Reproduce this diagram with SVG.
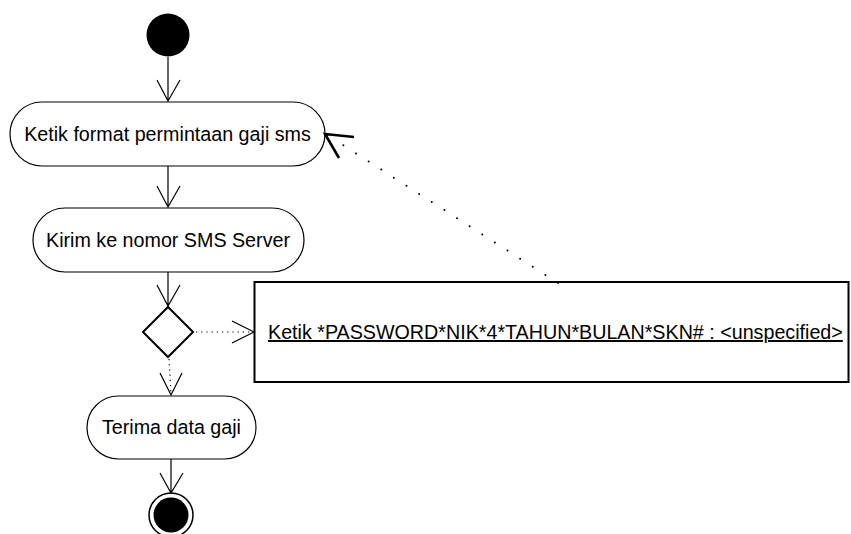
<svg xmlns="http://www.w3.org/2000/svg" width="851" height="534" viewBox="0 0 851 534">
<style>
text{font-family:"Liberation Sans",Arial,sans-serif;font-size:19.7px;fill:#000}
.act{fill:#fff;stroke:#000;stroke-width:1.2}
.thick{fill:#fff;stroke:#000;stroke-width:2}
.ln{fill:none;stroke:#000;stroke-width:1.2}
.dot{fill:none;stroke:#000;stroke-width:1.2;stroke-dasharray:1.2 4}
</style>
<rect width="851" height="534" fill="#fff"/>
<g id="start"><circle cx="168" cy="35" r="21.5" fill="#000"/></g>
<g id="a1"><rect class="act" x="10" y="102" width="315" height="64" rx="32"/><text x="167.5" y="141" text-anchor="middle">Ketik format permintaan gaji sms</text></g>
<g id="a2"><rect class="act" x="33" y="208" width="271" height="64" rx="32"/><text x="168" y="247" text-anchor="middle">Kirim ke nomor SMS Server</text></g>
<g id="decision"><polygon class="thick" points="168,307 193,332 168,357 143,332"/></g>
<g id="note"><rect class="thick" x="254.5" y="282" width="594" height="100"/><text x="268" y="339" text-decoration="underline">Ketik *PASSWORD*NIK*4*TAHUN*BULAN*SKN# : &lt;unspecified&gt;</text></g>
<g id="a3"><rect class="act" x="87" y="396" width="169" height="63" rx="31.5"/><text x="171.5" y="434" text-anchor="middle">Terima data gaji</text></g>
<g id="end"><circle cx="171" cy="515" r="22" fill="#fff" stroke="#000" stroke-width="1.5"/><circle cx="171" cy="515" r="17.5" fill="#000"/></g>
<g id="connectors">
<path class="ln" d="M168,57 V101 M157,80 L168,101 L180,80"/>
<path class="ln" d="M168,166 V207 M157,186 L168,207 L180,186"/>
<path class="ln" d="M168,272 V306 M157,285 L168,306 L180,285"/>
<path class="dot" d="M196,332 H253"/>
<path class="ln" d="M232,321 L254,332 L232,343"/>
<path class="dot" d="M169,359 L171,394"/>
<path class="ln" d="M160,373 L171,395 L182,373"/>
<path class="ln" d="M171,459 V492 M160,473 L171,493 L183,473"/>
<path d="M558,283 L332,138" fill="none" stroke="#000" stroke-width="2" stroke-linecap="round" stroke-dasharray="0 15"/>
<path d="M354,137 L325,134 L339,158" fill="none" stroke="#000" stroke-width="2.6"/>
</g>
</svg>
